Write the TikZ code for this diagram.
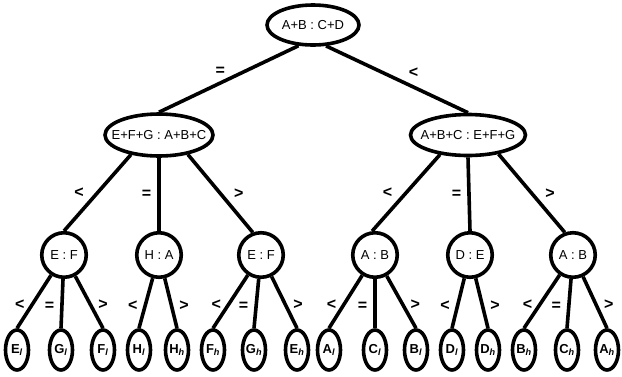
\documentclass[tikz,border=0pt]{standalone}
\usepackage{fontspec}
\setmainfont{Liberation Sans}
\usetikzlibrary{shapes.geometric}
\newcommand\lgt[1]{#1\textsubscript{\textit{l}}}
\newcommand\hvy[1]{#1\textsubscript{\textit{h}}}

\begin{document}
\begin{tikzpicture}[%
  x=1pt, y=-1pt,
  line width=3.6pt,
  every node/.style={font=\fontsize{13}{15}\selectfont},
  pan/.style={draw, ellipse, inner xsep=-12pt, inner ysep=0pt},
  ball/.style={draw, circle, minimum size=44.5pt, inner sep=0pt},
  coin/.style={draw, ellipse, minimum width=23pt, minimum height=40pt, inner sep=0pt,
    font=\fontsize{13}{15}\selectfont\bfseries},
  rel/.style={font=\fontsize{16}{18}\selectfont\bfseries, inner sep=1pt}]
\useasboundingbox (0,0) rectangle (622,376);

\node[pan, minimum width=92pt, minimum height=40pt] (top) at (313,25) {A+B : C+D};
\node[pan, minimum width=108pt, minimum height=42pt] (eq) at (159,135) {E+F+G : A+B+C};
\node[pan, minimum width=115pt, minimum height=41pt] (lt) at (468,135) {A+B+C : E+F+G};

\node[ball] (ef1) at (64,255) {E : F};
\node[ball] (ha)  at (159,255) {H : A};
\node[ball] (ef2) at (261,255) {E : F};
\node[ball] (ab1) at (375,255) {A : B};
\node[ball] (de)  at (470,255) {D : E};
\node[ball] (ab2) at (573,255) {A : B};

\node[coin] (el) at (17,350) {\lgt{E}};
\node[coin] (gl) at (61,350) {\lgt{G}};
\node[coin] (fl) at (103,350) {\lgt{F}};
\node[coin] (hl) at (139,350) {\lgt{H}};
\node[coin] (hh) at (177,350) {\hvy{H}};
\node[coin] (fh) at (213,350) {\hvy{F}};
\node[coin] (gh) at (254,350) {\hvy{G}};
\node[coin] (eh) at (297,350) {\hvy{E}};
\node[coin] (al) at (329,350) {\lgt{A}};
\node[coin] (cl) at (375,350) {\lgt{C}};
\node[coin] (bl) at (416,350) {\lgt{B}};
\node[coin] (dl) at (452,350) {\lgt{D}};
\node[coin] (dh) at (488,350) {\hvy{D}};
\node[coin] (bh) at (524,350) {\hvy{B}};
\node[coin] (ch) at (567,350) {\hvy{C}};
\node[coin] (ah) at (607,350) {\hvy{A}};

\draw (top.235) -- node[rel, pos=.5, above left=1pt] {=} (eq.north);
\draw (top.302) -- node[rel, pos=.55, above right=2pt] {<} (lt.north);

\draw (eq.215) -- node[rel, left=11pt] {<} (ef1.north);
\draw (eq.south) -- node[rel, left=5pt] {=} (ha.north);
\draw (eq.326) -- node[rel, right=11pt] {>} (ef2.110);
\draw (lt.215) -- node[rel, left=11pt] {<} (ab1.97);
\draw (lt.south) -- node[rel, left=5pt] {=} (de.north);
\draw (lt.328) -- node[rel, right=11pt] {>} (ab2.110);

\draw (ef1) -- node[rel, pos=.55, left=5pt] {<} (el.north);
\draw (ef1) -- node[rel, pos=.55, left=5pt] {=} (gl.north);
\draw (ef1) -- node[rel, pos=.55, right=5pt] {>} (fl.north);
\draw (ha)  -- node[rel, pos=.55, left=5pt] {<} (hl.north);
\draw (ha)  -- node[rel, pos=.55, right=5pt] {>} (hh.north);
\draw (ef2) -- node[rel, pos=.55, left=5pt] {<} (fh.north);
\draw (ef2) -- node[rel, pos=.55, left=5pt] {=} (gh.north);
\draw (ef2) -- node[rel, pos=.55, right=5pt] {>} (eh.north);
\draw (ab1) -- node[rel, pos=.55, left=5pt] {<} (al.north);
\draw (ab1) -- node[rel, pos=.55, left=5pt] {=} (cl.north);
\draw (ab1) -- node[rel, pos=.55, right=5pt] {>} (bl.north);
\draw (de)  -- node[rel, pos=.55, left=5pt] {<} (dl.north);
\draw (de)  -- node[rel, pos=.55, right=5pt] {>} (dh.north);
\draw (ab2) -- node[rel, pos=.55, left=5pt] {<} (bh.north);
\draw (ab2) -- node[rel, pos=.55, left=5pt] {=} (ch.north);
\draw (ab2) -- node[rel, pos=.55, right=5pt] {>} (ah.north);
\end{tikzpicture}
\end{document}
